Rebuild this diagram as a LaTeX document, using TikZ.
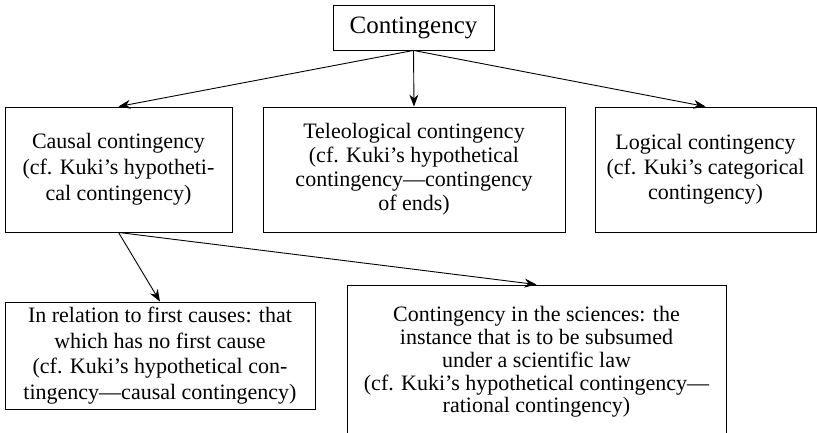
\documentclass[tikz,border=0pt]{standalone}
\usepackage{fontspec}
\setmainfont{Liberation Serif}
\usetikzlibrary{arrows.meta}

\newcommand{\boxfont}[1]{\fontsize{22}{#1}\selectfont}

\tikzset{
	box/.style={draw, line width=0.9pt, align=center, inner sep=0pt, font=\boxfont{25.5}},
	link/.style={-{Stealth[length=12pt,width=9pt]}, line width=0.9pt}
}

\begin{document}
\begin{tikzpicture}[x=1pt,y=-1pt]
		\clip (0,0) rectangle (817,433);
		% top of the tree
		\node[box, minimum width=161, minimum height=45, font=\fontsize{25}{30}\selectfont] (top) at (413.5,27.5) {Contingency};
		% three kinds
		\node[box, minimum width=227, minimum height=125, font=\boxfont{26}] (causal) at (118.5,169.5) {Causal contingency\\(cf. Kuki's hypotheti-\\cal contingency)};
		\node[box, minimum width=302, minimum height=125, font=\boxfont{24}] (teleo) at (414,169.5) {Teleological contingency\\(cf. Kuki's hypothetical\\contingency---contingency\\of ends)};
		\node[box, minimum width=221, minimum height=125, font=\boxfont{25}] (logical) at (705.5,169.5) {Logical contingency\\(cf. Kuki's categorical\\contingency)};
		% below causal contingency
		\node[box, minimum width=310, minimum height=107, font=\boxfont{25.7}] (first) at (160,355.5) {In relation to first causes: that\\which has no first cause\\(cf. Kuki's hypothetical con-\\tingency---causal contingency)};
		\node[box, minimum width=379, minimum height=154, font=\boxfont{22.8}] (science) at (536.5,362) {Contingency in the sciences: the\\instance that is to be subsumed\\under a scientific law\\(cf. Kuki's hypothetical contingency---\\rational contingency)};
		% arrows
		\draw[link] (top.south) -- (causal.north);
		\draw[link] (top.south) -- (teleo.north);
		\draw[link] (top.south) -- (logical.north);
		\draw[link] (causal.south) -- (first.north);
		\draw[link] (causal.south) -- (science.north);
	\end{tikzpicture}
\end{document}
